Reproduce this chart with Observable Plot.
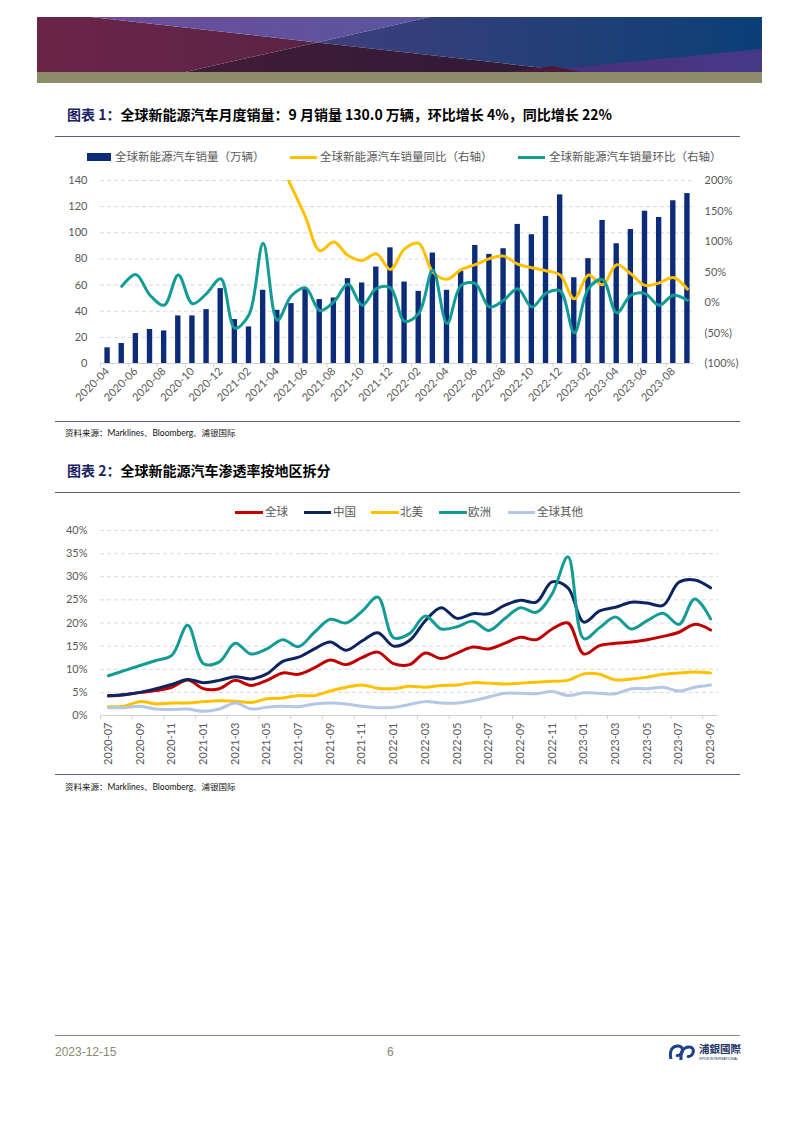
<!DOCTYPE html>
<html><head><meta charset="utf-8">
<script src="https://cdn.jsdelivr.net/npm/d3@7"></script>
<script src="https://cdn.jsdelivr.net/npm/@observablehq/plot@0.6"></script>
<style>
html,body{margin:0;padding:0;background:#fff}
body{width:794px;height:1123px;position:relative;overflow:hidden;font-family:"Noto Sans CJK SC","Noto Sans",sans-serif}
.abs{position:absolute}
.title{font-size:14px;font-weight:700;color:#000;white-space:nowrap;line-height:1}
.title .lab{color:#1b2463}
.sep{position:absolute;left:55px;width:685px;height:0;border-top:1.4px solid #5f5b8e}
.lg{position:absolute;font-size:11.5px;color:#595959;white-space:nowrap;line-height:1}
.sw{position:absolute}
.src{position:absolute;left:65px;font-size:8.5px;color:#111;white-space:nowrap;line-height:1}
.src .lat{font-family:Lato,"Noto Sans",sans-serif}
.foot{position:absolute;font-family:"Liberation Sans Narrow","Liberation Sans",sans-serif;font-size:12px;color:#8a896e;line-height:1}
</style></head><body>

<svg class="abs" style="left:37px;top:17px" width="725" height="66">
  <defs>
    <linearGradient id="gm" x1="0" x2="1"><stop offset="0" stop-color="#6b2549"/><stop offset="1" stop-color="#5a2345"/></linearGradient>
    <linearGradient id="gp" x1="0" x2="1"><stop offset="0" stop-color="#6b4c9b"/><stop offset="1" stop-color="#5a559e"/></linearGradient>
    <linearGradient id="gd" x1="0" x2="1"><stop offset="0" stop-color="#421c37"/><stop offset="1" stop-color="#2e1a39"/></linearGradient>
    <linearGradient id="gb" x1="0" x2="1"><stop offset="0" stop-color="#3f3f7c"/><stop offset="1" stop-color="#0b3f76"/></linearGradient>
    <linearGradient id="gv" x1="0" x2="1"><stop offset="0" stop-color="#4b2c78"/><stop offset="1" stop-color="#463a88"/></linearGradient>
  </defs>
  <polygon points="0,0 54,0 280,25.4 148,55 0,55" fill="url(#gm)"/>
  <polygon points="54,0 393,0 280,25.4" fill="url(#gp)"/>
  <polygon points="393,0 725,0 725,55 543,55 280,25.4" fill="url(#gb)"/>
  <polygon points="148,55 280,25.4 543,55" fill="url(#gd)"/>
  <polygon points="490,55 725,32 725,55" fill="url(#gv)"/>
  <polygon points="470,55 515,49 543,55" fill="#4a1a3c"/>
  <rect x="0" y="55" width="725" height="11" fill="#8e8b6b"/>
</svg>

<div class="abs title" style="left:67px;top:107px"><span class="lab">图表 1：</span>全球新能源汽车月度销量：9 月销量 130.0 万辆，环比增长 4%，同比增长 22%</div>
<div class="sep" style="top:136px"></div>

<div class="sw" style="left:87px;top:153px;width:24px;height:8px;background:#0c2b78"></div>
<div class="lg" style="left:115px;top:151px">全球新能源汽车销量（万辆）</div>
<div class="sw" style="left:290px;top:155.5px;width:27px;height:3px;background:#ffc000"></div>
<div class="lg" style="left:320px;top:151px">全球新能源汽车销量同比（右轴）</div>
<div class="sw" style="left:518px;top:155.5px;width:27px;height:3px;background:#139c96"></div>
<div class="lg" style="left:549px;top:151px">全球新能源汽车销量环比（右轴）</div>

<div id="c1" class="abs" style="left:0;top:170px"></div>
<div class="sep" style="top:421px"></div>
<div class="src" style="top:428px">资料来源：<span class="lat">Marklines</span>、<span class="lat">Bloomberg</span>、浦银国际</div>

<div class="abs title" style="left:67px;top:463px"><span class="lab">图表 2：</span>全球新能源汽车渗透率按地区拆分</div>
<div class="sep" style="top:492px"></div>

<div class="sw" style="left:235px;top:510.5px;width:28px;height:3px;background:#c00000"></div>
<div class="lg" style="left:265px;top:506px">全球</div>
<div class="sw" style="left:304px;top:510.5px;width:27px;height:3px;background:#0c2461"></div>
<div class="lg" style="left:333px;top:506px">中国</div>
<div class="sw" style="left:371px;top:510.5px;width:28px;height:3px;background:#ffc000"></div>
<div class="lg" style="left:400px;top:506px">北美</div>
<div class="sw" style="left:439px;top:510.5px;width:28px;height:3px;background:#139c96"></div>
<div class="lg" style="left:468px;top:506px">欧洲</div>
<div class="sw" style="left:508px;top:510.5px;width:27px;height:3px;background:#b4c7e7"></div>
<div class="lg" style="left:537px;top:506px">全球其他</div>

<div id="c2" class="abs" style="left:0;top:520px"></div>
<div class="sep" style="top:774px"></div>
<div class="src" style="top:782px">资料来源：<span class="lat">Marklines</span>、<span class="lat">Bloomberg</span>、浦银国际</div>

<div class="abs" style="left:55px;top:1035px;width:685px;height:0;border-top:1.6px solid #8b8a6c"></div>
<div class="foot" style="left:55px;top:1046px">2023-12-15</div>
<div class="foot" style="left:387px;top:1046px">6</div>
<svg class="abs" style="left:668px;top:1041px" width="76" height="22">
  <path d="M3,18 C1,10 4,5 10,5 C14,5 15,8 14,11 C13,14 10,15 8,14" fill="none" stroke="#1d3f8f" stroke-width="3"/>
  <path d="M13,19 C12,12 15,6 21,6 C25,6 26,9 25,12 C24,15 21,16 19,15" fill="none" stroke="#1d3f8f" stroke-width="3"/>
  <text x="31" y="12" font-family="Noto Sans CJK TC" font-size="10.5" font-weight="700" fill="#1d3563">浦銀國際</text>
  <text x="31" y="19" font-family="Liberation Sans" font-size="3.6" fill="#1d3563">SPDB INTERNATIONAL</text>
</svg>

<script>
// ---------- Chart 1 data ----------
const months1 = ["2020-04","2020-05","2020-06","2020-07","2020-08","2020-09","2020-10","2020-11","2020-12",
  "2021-01","2021-02","2021-03","2021-04","2021-05","2021-06","2021-07","2021-08","2021-09","2021-10","2021-11","2021-12",
  "2022-01","2022-02","2022-03","2022-04","2022-05","2022-06","2022-07","2022-08","2022-09","2022-10","2022-11","2022-12",
  "2023-01","2023-02","2023-03","2023-04","2023-05","2023-06","2023-07","2023-08","2023-09"];
const sales = [12.0,15.3,22.9,26.0,24.9,36.4,36.4,41.2,57.3,
  33.6,28.0,56.0,40.7,45.8,57.0,48.9,50.1,64.9,61.6,73.8,88.5,
  62.3,55.2,84.5,56.0,70.5,90.3,83.5,87.8,106.4,98.5,112.5,129.0,
  65.6,80.2,109.4,91.6,102.5,116.5,111.7,124.5,130.0];
const yoyMonths = months1.slice(12);
const yoy = [240,190,140,85,99,77,69,80,54,
  88,97,50,38,54,62,72,76,63,57,52,45,
  6,45,29,62,47,28,32,41,22];
const momMonths = months1.slice(1);
const mom = [26.5,46,12,-4.5,45,-2,14.6,39,
  -42,-20,97,-29,11,24,-13,1,30,-4.5,22.7,24,
  -31,-18,53,-34.5,28,31,-7.3,3.6,22.7,-7.3,15,19,
  -49.8,22.7,37.5,-17,11.8,14.6,-4.5,11.8,3.6];
const leftTicks = [0,20,40,60,80,100,120,140];
const rightTicks = [-100,-50,0,50,100,150,200];

// ---------- Chart 2 data ----------
const months2 = ["2020-07","2020-08","2020-09","2020-10","2020-11","2020-12",
  "2021-01","2021-02","2021-03","2021-04","2021-05","2021-06","2021-07","2021-08","2021-09","2021-10","2021-11","2021-12",
  "2022-01","2022-02","2022-03","2022-04","2022-05","2022-06","2022-07","2022-08","2022-09","2022-10","2022-11","2022-12",
  "2023-01","2023-02","2023-03","2023-04","2023-05","2023-06","2023-07","2023-08","2023-09"];
const globalPen = [4.2,4.5,5.0,5.4,6.1,7.7,
  5.8,5.8,7.6,6.5,7.6,9.2,8.9,10.3,12.0,11.0,12.5,13.7,
  11.2,11.0,13.5,12.3,13.5,14.8,14.4,15.6,16.9,16.4,18.7,20.0,
  13.3,15.1,15.6,15.9,16.4,17.1,18.0,19.7,18.5];
const chinaPen = [4.3,4.5,5.0,5.8,6.7,7.8,
  7.1,7.6,8.4,7.9,9.0,11.7,12.6,14.4,15.9,14.1,16.1,17.9,
  15.0,16.2,20.5,23.3,21.0,22.0,22.0,23.8,24.9,24.5,28.9,27.6,
  20.2,22.6,23.4,24.5,24.3,23.8,28.8,29.3,27.6];
const naPen = [1.9,2.0,3.0,2.5,2.7,2.7,
  3.0,3.2,3.1,2.8,3.6,3.8,4.3,4.3,5.3,6.1,6.6,5.9,
  5.8,6.3,6.1,6.5,6.6,7.1,7.0,6.8,7.0,7.2,7.4,7.6,
  9.0,8.9,7.7,7.9,8.3,8.9,9.2,9.4,9.2];
const euPen = [8.6,9.7,10.8,11.9,13.0,19.5,
  11.2,11.6,15.6,13.3,14.4,16.4,14.9,18.0,20.8,20.0,22.5,25.6,
  16.8,17.7,21.5,18.7,19.2,20.4,18.4,20.9,23.3,22.3,26.3,34.3,
  16.6,19.0,21.3,18.7,20.5,22.1,19.7,25.2,20.9];
const restPen = [1.7,1.7,2.0,1.4,1.3,1.4,
  0.9,1.4,2.7,1.4,1.8,2.0,1.9,2.5,2.7,2.5,2.0,1.7,
  1.8,2.4,3.0,2.7,2.7,3.2,4.0,4.8,4.8,4.7,5.2,4.3,
  4.9,4.8,4.7,5.8,5.8,6.1,5.3,6.1,6.6];
const penTicks = [0,5,10,15,20,25,30,35,40];
const seriesNames = ["全球","中国","北美","欧洲","全球其他"];
const seriesColors = ["#c00000","#0c2461","#ffc000","#139c96","#b4c7e7"];

// ---------- Chart 1 ----------
const idx1 = new Map(months1.map((m, i) => [m, i]));
const toLeft = p => (p + 100) * 140 / 300;   // right-axis % mapped onto left-axis units
const barRows = months1.map((m, i) => ({i, sales: sales[i]}));
const yoyRows = yoyMonths.map((m, k) => ({i: idx1.get(m), v: toLeft(yoy[k])}));
const momRows = momMonths.map((m, k) => ({i: idx1.get(m), v: toLeft(mom[k])}));
const evenIdx1 = months1.map((m, i) => i).filter(i => i % 2 === 0);
const bounds1 = evenIdx1.map(i => i - 0.5);
const axisFont = "Lato, 'Noto Sans', sans-serif";

const c1 = Plot.plot({
  width: 794, height: 253,
  marginLeft: 100, marginRight: 100, marginTop: 10, marginBottom: 60,
  x: {domain: [-0.5, months1.length - 0.5], axis: null, label: null},
  y: {domain: [0, 140], axis: null, label: null},
  style: {fontFamily: axisFont, fontSize: "11px", color: "#595959", background: "transparent", overflow: "visible"},
  marks: [
    Plot.ruleY(leftTicks.slice(1), {stroke: "#d9d9d9", strokeWidth: 1, strokeDasharray: "4,3"}),
    Plot.rectY(barRows, {x1: d => d.i - 0.19, x2: d => d.i + 0.19, y1: 0, y2: "sales", fill: "#0c2b78"}),
    Plot.ruleY([0], {stroke: "#d0d0d0", strokeWidth: 1}),
    Plot.line(yoyRows, {x: "i", y: "v", stroke: "#ffc000", strokeWidth: 3, curve: "catmull-rom", clip: true}),
    Plot.line(momRows, {x: "i", y: "v", stroke: "#139c96", strokeWidth: 3, curve: "catmull-rom", clip: true}),
    Plot.axisY({ticks: leftTicks, anchor: "left", label: null, tickSize: 0, tickPadding: 13, tickFormat: d => String(d), fill: "#595959"}),
    Plot.axisY({ticks: rightTicks.map(toLeft), anchor: "right", label: null, tickSize: 0, tickPadding: 10, fill: "#595959",
      tickFormat: v => { const p = Math.round(v * 300 / 140 - 100); return p < 0 ? `(${-p}%)` : `${p}%`; }}),
    Plot.axisX({ticks: evenIdx1, anchor: "bottom", label: null, tickSize: 0, tickPadding: 6, tickRotate: -45, fill: "#595959",
      tickFormat: i => months1[i]}),
    Plot.axisX({ticks: bounds1, anchor: "bottom", label: null, tickSize: 4, stroke: "#d0d0d0", tickFormat: () => ""})
  ]
});
document.getElementById("c1").appendChild(c1);

// ---------- Chart 2 ----------
const penSeries = [globalPen, chinaPen, naPen, euPen, restPen];
const penRows = penSeries.flatMap((arr, s) => months2.map((m, i) => ({i, v: arr[i], s: seriesNames[s]})));
const evenIdx2 = months2.map((m, i) => i).filter(i => i % 2 === 0);
const bounds2 = evenIdx2.map(i => i - 0.5);

const c2 = Plot.plot({
  width: 794, height: 255,
  marginLeft: 100, marginRight: 76, marginTop: 10, marginBottom: 60,
  x: {domain: [-0.5, months2.length - 0.5], axis: null, label: null},
  y: {domain: [0, 40], axis: null, label: null},
  color: {domain: seriesNames, range: seriesColors},
  style: {fontFamily: axisFont, fontSize: "11px", color: "#595959", background: "transparent", overflow: "visible"},
  marks: [
    Plot.ruleY(penTicks.slice(1), {stroke: "#d9d9d9", strokeWidth: 1, strokeDasharray: "4,3"}),
    Plot.ruleY([0], {stroke: "#d0d0d0", strokeWidth: 1}),
    ...seriesNames.map(name => Plot.line(penRows.filter(d => d.s === name),
      {x: "i", y: "v", stroke: "s", strokeWidth: 3, curve: "catmull-rom"})),
    Plot.axisY({ticks: penTicks, anchor: "left", label: null, tickSize: 0, tickPadding: 13, tickFormat: d => d + "%", fill: "#595959"}),
    Plot.axisX({ticks: evenIdx2, anchor: "bottom", label: null, tickSize: 0, tickPadding: 7, tickRotate: -90, fill: "#595959",
      tickFormat: i => months2[i]}),
    Plot.axisX({ticks: bounds2, anchor: "bottom", label: null, tickSize: 4, stroke: "#d0d0d0", tickFormat: () => ""})
  ]
});
document.getElementById("c2").appendChild(c2);
</script>
</body></html>
